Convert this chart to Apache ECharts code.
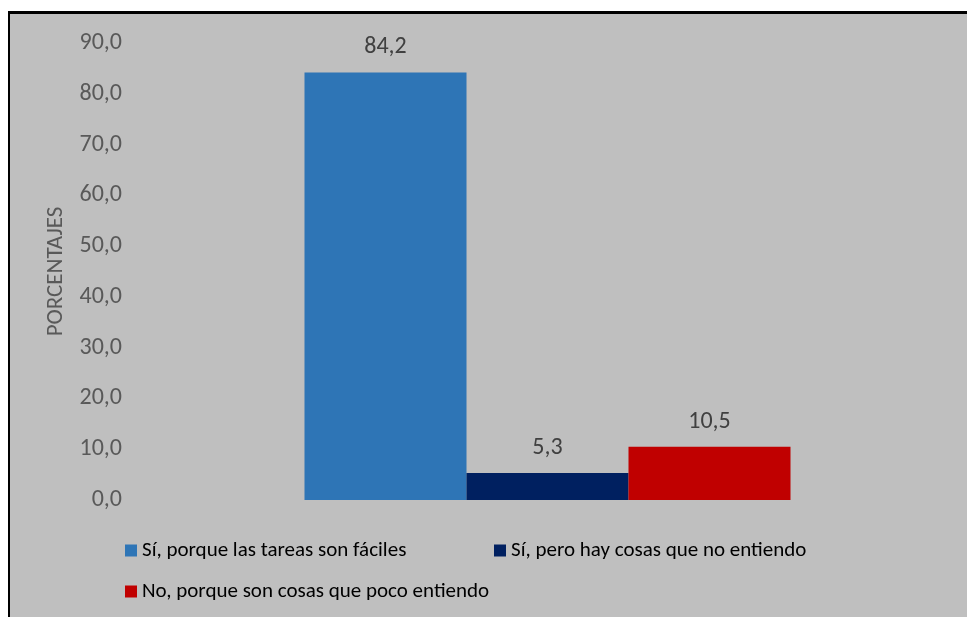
<!DOCTYPE html>
<html>
<head>
<meta charset="utf-8">
<script src="https://cdn.jsdelivr.net/npm/echarts@6/dist/echarts.min.js"></script>
<style>
  html, body { margin: 0; padding: 0; background: #ffffff; width: 967px; height: 617px; overflow: hidden; }
  #frame { position: absolute; left: 8px; top: 11px; width: 970px; height: 620px; background: #BFBFBF; border-left: 2px solid #000; border-top: 3px solid #000; box-sizing: border-box; }
  #chart { position: absolute; left: 0; top: 0; width: 967px; height: 617px; }
</style>
</head>
<body>
<div id="frame"></div>
<div id="chart"></div>
<script>
const categories = ['Respuesta'];
const seriesNames = [
  'Sí, porque las tareas son fáciles',
  'Sí, pero hay cosas que no entiendo',
  'No, porque son cosas que poco entiendo'
];
const seriesValues = [[84.2], [5.3], [10.5]];
const seriesColors = ['#2E75B6', '#002060', '#C00000'];
const yTicks = [0, 10, 20, 30, 40, 50, 60, 70, 80, 90];
const yAxisTitle = 'PORCENTAJES';

const FONT = "Carlito, 'Liberation Sans', sans-serif";
const fmt = v => Number(v).toFixed(1).replace('.', ',');

const chart = echarts.init(document.getElementById('chart'), null, { renderer: 'canvas' });

const legendPos = [
  { left: 125, top: 540 },
  { left: 494, top: 540 },
  { left: 125, top: 581 }
];

const option = {
  backgroundColor: 'transparent',
  animation: false,
  grid: { left: 130, right: 2, top: 43, bottom: 117, containLabel: false },
  xAxis: {
    type: 'category',
    data: categories,
    axisLine: { show: false },
    axisTick: { show: false },
    axisLabel: { show: false },
    splitLine: { show: false }
  },
  yAxis: {
    type: 'value',
    min: yTicks[0],
    max: yTicks[yTicks.length - 1],
    interval: 10,
    name: yAxisTitle,
    nameLocation: 'middle',
    nameGap: 62,
    nameRotate: 90,
    nameTextStyle: { color: '#595959', fontSize: 23, fontFamily: FONT },
    axisLine: { show: false },
    axisTick: { show: false },
    splitLine: { show: false },
    axisLabel: { color: '#595959', fontSize: 24, fontFamily: FONT, margin: 8, formatter: fmt }
  },
  legend: seriesNames.map((n, i) => ({
    data: [n],
    left: legendPos[i].left,
    top: legendPos[i].top,
    orient: 'horizontal',
    icon: 'rect',
    itemWidth: 12,
    itemHeight: 12,
    itemGap: 0,
    padding: 0,
    selectedMode: false,
    textStyle: { color: '#000000', fontSize: 21, fontFamily: FONT }
  })),
  series: seriesNames.map((n, i) => ({
    name: n,
    type: 'bar',
    data: seriesValues[i],
    barWidth: 162,
    barGap: '0%',
    itemStyle: { color: seriesColors[i] },
    label: {
      show: true,
      position: 'top',
      distance: 13,
      color: '#404040',
      fontSize: 24,
      fontFamily: FONT,
      formatter: p => fmt(p.value)
    }
  }))
};
chart.setOption(option);
</script>
</body>
</html>
